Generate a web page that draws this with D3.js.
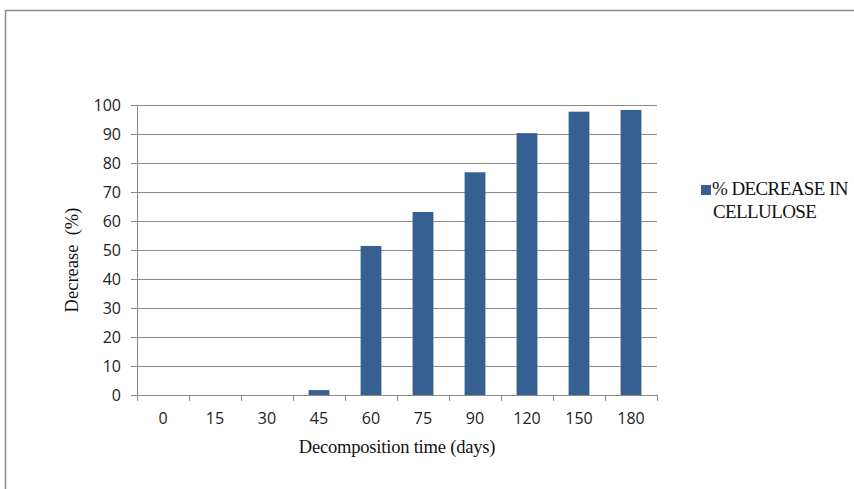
<!DOCTYPE html>
<html><head><meta charset="utf-8">
<script src="https://cdn.jsdelivr.net/npm/d3@7"></script>
<style>body{margin:0;background:#fff}svg{display:block}</style>
</head><body>
<script>
const categories = ["0","15","30","45","60","75","90","120","150","180"];
const values = [0,0,0,1.7,51.4,63.1,76.8,90.3,97.7,98.3];
const yTicks = [0,10,20,30,40,50,60,70,80,90,100];
const seriesName = ["% DECREASE IN","CELLULOSE"];

const W=854,H=489;
const svg=d3.select("body").append("svg").attr("width",W).attr("height",H);
svg.append("rect").attr("x",5.5).attr("y",10.5).attr("width",W+10).attr("height",H+10)
  .attr("fill","#fff").attr("stroke","#8c8c8c").attr("stroke-width",1.5);

const x=d3.scaleBand().domain(categories).range([137,657]).paddingInner(0.6).paddingOuter(0.3);
const y=d3.scaleLinear().domain([0,100]).range([395,105]);

const g=svg.append("g");
g.selectAll(".grid").data(yTicks).join("line")
  .attr("x1",131).attr("x2",657).attr("y1",d=>Math.round(y(d))+0.5).attr("y2",d=>Math.round(y(d))+0.5)
  .attr("stroke","#8a8a8a").attr("stroke-width",1);
g.append("line").attr("x1",137.5).attr("x2",137.5).attr("y1",105).attr("y2",395).attr("stroke","#8a8a8a");

g.selectAll(".bar").data(values).join("rect")
  .attr("x",(d,i)=>x(categories[i])).attr("width",x.bandwidth())
  .attr("y",d=>y(d)).attr("height",d=>y(0)-y(d)).attr("fill","#376092");

const edges=d3.range(categories.length+1).map(i=>137+i*x.step());
g.selectAll(".xt").data(edges).join("line")
  .attr("x1",d=>d+0.5).attr("x2",d=>d+0.5).attr("y1",395).attr("y2",401).attr("stroke","#8a8a8a");

g.selectAll(".xl").data(categories).join("text")
  .attr("x",d=>x(d)+x.bandwidth()/2).attr("y",424)
  .attr("text-anchor","middle").attr("font-family","Open Sans, sans-serif").attr("font-size",16).attr("fill","#222")
  .text(d=>d);
g.selectAll(".yl").data(yTicks).join("text")
  .attr("x",121).attr("y",d=>y(d)+5.5)
  .attr("text-anchor","end").attr("font-family","Open Sans, sans-serif").attr("font-size",16).attr("fill","#222")
  .text(d=>d);

const serif="'Liberation Serif', 'Times New Roman', serif";
svg.append("text").attr("transform","translate(78,260) rotate(-90)").attr("text-anchor","middle")
  .attr("font-family",serif).attr("font-size",18.5).attr("fill","#111")
  .style("white-space","pre").text("Decrease  (%)");
svg.append("text").attr("x",397).attr("y",453).attr("text-anchor","middle")
  .attr("font-family",serif).attr("font-size",18.5).attr("fill","#111")
  .attr("letter-spacing",-0.2).text("Decomposition time (days)");

svg.append("rect").attr("x",701).attr("y",185).attr("width",10).attr("height",10).attr("fill","#376092");
svg.append("text").attr("x",712).attr("y",195).attr("font-family",serif)
  .attr("font-size",19).attr("fill","#111").attr("letter-spacing",-0.6).text(seriesName[0]);
svg.append("text").attr("x",713).attr("y",218).attr("font-family",serif)
  .attr("font-size",19).attr("fill","#111").attr("letter-spacing",-0.6).text(seriesName[1]);
</script>
</body></html>
